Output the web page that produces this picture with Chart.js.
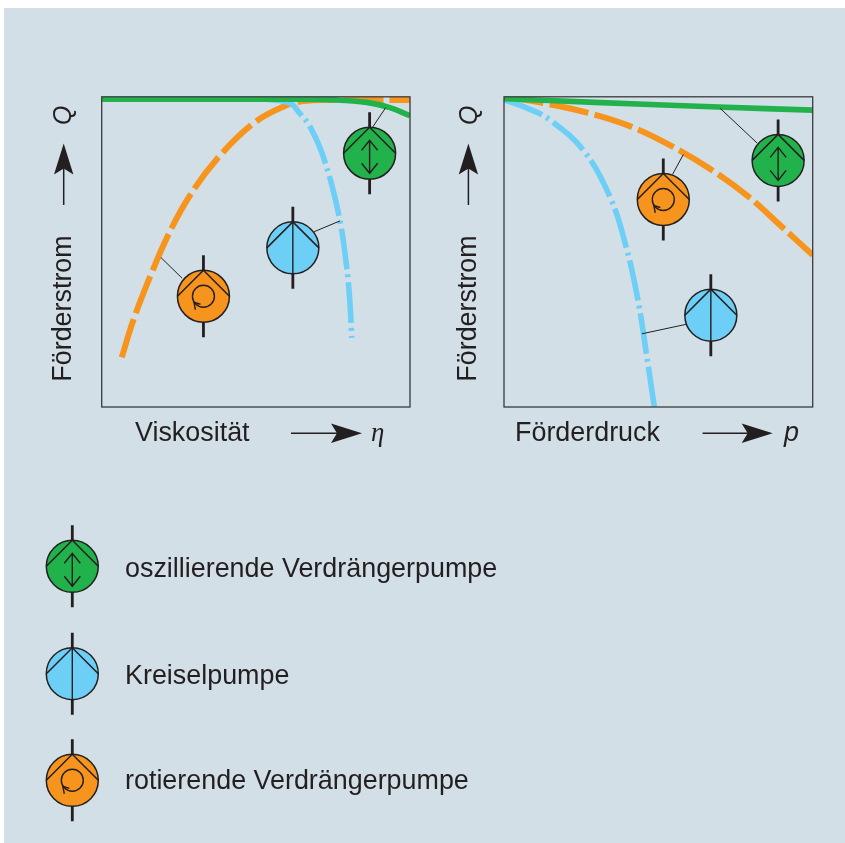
<!DOCTYPE html>
<html><head><meta charset="utf-8">
<script src="https://cdn.jsdelivr.net/npm/chart.js@4/dist/chart.umd.min.js"></script>
<style>
html,body{margin:0;padding:0;background:#fff;overflow:hidden}
#bg{position:absolute;left:4px;top:8px;width:841px;height:835px;background:#d2dfe7}
canvas{position:absolute;left:0;top:0}
</style></head><body>
<div id="bg"></div>
<canvas id="left" width="845" height="843"></canvas>
<canvas id="right" width="845" height="843"></canvas>
<script>
// ---- data (relative units, 0-100 on both axes) ----
const leftGreenX  = [0,61,76,86,93.5,100];
const leftGreenY  = [99.2,99.2,99,98.2,96.5,93.9];
const leftOrangeX = [6.5,10.3,15.7,21.6,28.7,37.8,49.2,58.9,65.4,74,91,100];
const leftOrangeY = [16,28.1,42,55.5,68.3,80.4,91.4,96.8,98.6,99,99,99];
const leftBlueX   = [53.5,61,64.3,67.6,71.9,76.8,79.4,80.5,81.1];
const leftBlueY   = [99.2,98,94.6,90.3,80.6,62.4,45.7,33.9,22.3];
const rightGreenX = [0,29.5,69.4,100];
const rightGreenY = [99.4,98.2,96.7,95.7];
const rightOrangeX= [0,13.3,27.3,41.4,54.3,67.3,79.2,90,100];
const rightOrangeY= [100,97.9,94.8,90.3,84.1,76.4,67.8,58.1,49];
const rightBlueX  = [0,7.9,14.9,25.7,34.3,39.7,43.5,46.2,48.7];
const rightBlueY  = [99,96.2,92.5,82.8,67.8,51.1,33.9,16.7,0];
// pump symbols: [x, y]
const leftPumpGreen   = [86.9,81.8];
const leftPumpBlue    = [62,51.3];
const leftPumpOrange  = [33,35.7];
const rightPumpGreen  = [88.8,79.5];
const rightPumpBlue   = [67,29.6];
const rightPumpOrange = [51.6,66.9];
// leader lines
const leftLeadGreenX=[92.1,87.6],  leftLeadGreenY=[96.5,89.8];
const leftLeadBlueX=[68.9,77.3],   leftLeadBlueY=[56.5,60];
const leftLeadOrangeX=[19.2,26.1], leftLeadOrangeY=[48.2,41.5];
const rightLeadGreenX=[70,82.1],   rightLeadGreenY=[96.3,85];
const rightLeadBlueX=[44.7,59.2],  rightLeadBlueY=[23.6,26.7];
const rightLeadOrangeX=[58.1,54.6],rightLeadOrangeY=[81.4,75];
// labels
const yTitle='Förderstrom', yVar='Q';
const leftXTitle='Viskosität', leftXVar='η';
const rightXTitle='Förderdruck', rightXVar='p';
const legendLabels=['oszillierende Verdrängerpumpe','Kreiselpumpe','rotierende Verdrängerpumpe'];

const GREEN='#22b24c', BLUE='#6dcff6', ORANGE='#f7941d', INK='#231f20';
const FONT='"Liberation Sans"';
const TXT='#231f20';

function zip(x,y){return x.map((v,i)=>({x:v,y:y[i]}));}
function curve(x,y,color,dash,w){return {data:zip(x,y),borderColor:color,borderWidth:w,borderDash:dash||[],
  borderCapStyle:'butt',pointRadius:0,tension:0.4,clip:0,fill:false};}
function lead(x,y){return {data:zip(x,y),borderColor:INK,borderWidth:1,pointRadius:0,tension:0,clip:0,fill:false};}

function pump(c,x,y,color,kind){
  const R=26;
  c.save();c.translate(x,y);
  c.fillStyle=color;c.strokeStyle=INK;c.lineWidth=1.5;
  c.beginPath();c.arc(0,0,R,0,Math.PI*2);c.fill();c.stroke();
  c.beginPath();c.moveTo(-R,0);c.lineTo(0,-R);c.lineTo(R,0);c.stroke();
  c.lineWidth=2.8;
  c.beginPath();c.moveTo(0,-41);c.lineTo(0,-R);c.moveTo(0,R);c.lineTo(0,41);c.stroke();
  c.lineWidth=1.4;
  if(kind==='osc'){
    c.beginPath();c.moveTo(0,-13);c.lineTo(0,20);
    c.moveTo(-8,-3);c.lineTo(0,-13);c.lineTo(8,-3);
    c.moveTo(-8,10);c.lineTo(0,20);c.lineTo(8,10);c.stroke();
  }else if(kind==='kreisel'){
    c.beginPath();c.moveTo(0,-R);c.lineTo(0,R);c.stroke();
  }else{
    c.beginPath();c.arc(0,0,11,0,Math.PI*2);c.stroke();
    c.beginPath();c.moveTo(-3,8);c.lineTo(-9.5,6);c.lineTo(-8,13.5);c.stroke();
  }
  c.restore();
}
function arrow(c,x0,y0,x1,y1){
  const a=Math.atan2(y1-y0,x1-x0),L=Math.hypot(x1-x0,y1-y0);
  c.save();c.translate(x0,y0);c.rotate(a);
  c.strokeStyle=INK;c.fillStyle=INK;c.lineWidth=1.5;
  c.beginPath();c.moveTo(0,0);c.lineTo(L-20,0);c.stroke();
  c.beginPath();c.moveTo(L,0);c.lineTo(L-31,-9.7);c.lineTo(L-25,0);c.lineTo(L-31,9.7);c.closePath();c.fill();
  c.restore();
}
function text(c,s,x,y,font,rot){
  c.save();c.translate(x,y);if(rot)c.rotate(-Math.PI/2);
  c.font=font;c.fillStyle=TXT;c.textAlign='left';c.textBaseline='alphabetic';c.fillText(s,0,0);c.restore();
}
const SIZE=26.9;
function panelPlugin(pumps,draw){return {id:'panel',afterDraw(ch){
  const c=ch.ctx,a=ch.chartArea,sx=ch.scales.x,sy=ch.scales.y;
  c.save();
  c.strokeStyle='#3a3a3c';c.lineWidth=1.3;c.strokeRect(a.left,a.top,a.right-a.left,a.bottom-a.top);
  pumps.forEach(p=>pump(c,sx.getPixelForValue(p[0][0]),sy.getPixelForValue(p[0][1]),p[1],p[2]));
  draw(c);
  c.restore();
}};}
function make(id,pad,datasets,plugin){
  return new Chart(document.getElementById(id),{type:'line',data:{datasets},plugins:[plugin],
    options:{responsive:false,animation:false,layout:{padding:pad},
      plugins:{legend:{display:false},tooltip:{enabled:false},title:{display:false}},
      scales:{x:{type:'linear',min:0,max:100,display:false},y:{type:'linear',min:0,max:100,display:false}}}});
}
// Chart.js paints the first dataset last, so the topmost marks come first.
make('left',{left:101.7,top:96.8,right:845-410,bottom:843-407},[
  lead(leftLeadGreenX,leftLeadGreenY),lead(leftLeadBlueX,leftLeadBlueY),lead(leftLeadOrangeX,leftLeadOrangeY),
  curve(leftGreenX,leftGreenY,GREEN,[],5.6),
  curve(leftBlueX,leftBlueY,BLUE,[41,5,3,5],5.6),
  curve(leftOrangeX,leftOrangeY,ORANGE,[40,6],6)
],panelPlugin([[leftPumpGreen,GREEN,'osc'],[leftPumpBlue,BLUE,'kreisel'],[leftPumpOrange,ORANGE,'rot']],c=>{
  text(c,yTitle,70.7,381.7,SIZE+'px '+FONT,true);
  arrow(c,63.7,205,63.7,143.5);
  text(c,yVar,71,125,'italic 25px '+FONT,true);
  text(c,leftXTitle,135,441,SIZE+'px '+FONT);
  arrow(c,291,433.3,362,433.3);
  text(c,leftXVar,371,441,'italic '+SIZE+'px "Liberation Serif"');
  // legend
  const ly=[566.3,673.7,780.3],lk=[[GREEN,'osc'],[BLUE,'kreisel'],[ORANGE,'rot']],bl=[577,684,789];
  legendLabels.forEach((s,i)=>{pump(c,72.3,ly[i],lk[i][0],lk[i][1]);text(c,s,125,bl[i],SIZE+'px '+FONT);});
}));
make('right',{left:504,top:96.8,right:845-812.7,bottom:843-407},[
  lead(rightLeadGreenX,rightLeadGreenY),lead(rightLeadBlueX,rightLeadBlueY),lead(rightLeadOrangeX,rightLeadOrangeY),
  curve(rightGreenX,rightGreenY,GREEN,[],5.6),
  curve(rightBlueX,rightBlueY,BLUE,[41,5,3,5],5.6),
  curve(rightOrangeX,rightOrangeY,ORANGE,[40,6],6)
],panelPlugin([[rightPumpGreen,GREEN,'osc'],[rightPumpBlue,BLUE,'kreisel'],[rightPumpOrange,ORANGE,'rot']],c=>{
  text(c,yTitle,475.7,381.7,SIZE+'px '+FONT,true);
  arrow(c,468.4,205,468.4,143.5);
  text(c,yVar,476.5,125,'italic 25px '+FONT,true);
  text(c,rightXTitle,515,441,SIZE+'px '+FONT);
  arrow(c,702.6,433.3,772.7,433.3);
  text(c,rightXVar,784,441,'italic '+SIZE+'px '+FONT);
}));
</script>
</body></html>
